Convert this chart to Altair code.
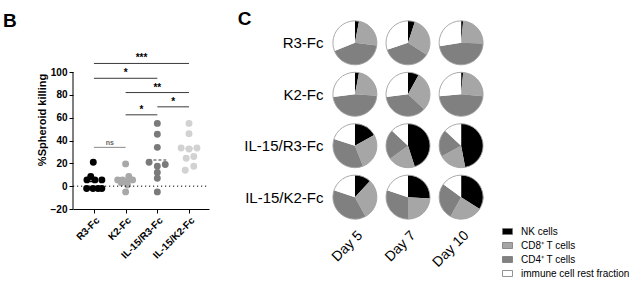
import math
import altair as alt
import pandas as pd

# ---------------- Panel B data ----------------
groups = ["R3-Fc", "K2-Fc", "IL-15/R3-Fc", "IL-15/K2-Fc"]
group_colors = ["#000000", "#a8a8a8", "#7a7a7a", "#d2d2d2"]

r3_vals = [21, 8.5, 5.5, 5.5, 5.5, -2, -2, -2, -2]
r3_dx = [-0.02, -0.1, -0.22, 0.03, 0.25, -0.23, -0.03, 0.13, 0.25]
k2_vals = [19.5, 8.5, 5.5, 5.5, 5.5, 4, 3, 1, -5]
k2_dx = [0.0, 0.1, -0.25, -0.1, 0.22, 0.03, -0.14, 0.06, 0.0]
il15r3_vals = [55, 45.5, 34, 21, 19, 17.5, 12, 7, -5]
il15r3_dx = [0, 0, 0, -0.26, 0.25, 0, 0, 0, 0]
il15k2_vals = [55, 46, 33.5, 32.5, 33.5, 24.5, 26, 14, 17.5]
il15k2_dx = [0, 0, -0.25, 0, 0.25, -0.09, 0.15, -0.12, 0.15]

medians = [4, 5, 23, 33]

sig_from = [0, 1, 2, 1, 0, 0]
sig_to = [1, 2, 3, 3, 2, 3]
sig_y = [34, 62.5, 69.5, 82, 94.5, 107.5]
sig_label = ["ns", "*", "*", "**", "*", "***"]

y_ticks = [-20, 0, 20, 40, 60, 80, 100]

# ---------------- Panel C data ----------------
days = ["Day 5", "Day 7", "Day 10"]
cells = ["NK cells", "CD8\u207a T cells", "CD4\u207a T cells", "immune cell rest fraction"]
cell_colors = ["#000000", "#a6a6a6", "#808080", "#ffffff"]

# percentages per pie: NK, CD8, CD4, rest
pie_r3 = [[3, 24, 42, 31], [5, 29, 36, 30], [1.5, 24, 47, 27.5]]
pie_k2 = [[3, 23, 47, 27], [8, 29, 36, 27], [1.5, 25, 47, 26.5]]
pie_il15r3 = [[17, 27, 36, 20], [45, 20, 22, 13], [47, 20, 20, 13]]
pie_il15k2 = [[12, 30, 38, 20], [26, 24, 30, 20], [34, 24, 27, 15]]

# ---------------- build tables ----------------
rows = []
for gi, (vals, dxs) in enumerate([(r3_vals, r3_dx), (k2_vals, k2_dx),
                                  (il15r3_vals, il15r3_dx), (il15k2_vals, il15k2_dx)]):
    for v, d in zip(vals, dxs):
        rows.append({"group": groups[gi], "xpos": gi + d, "val": v})
df_pts = pd.DataFrame(rows)

df_med = pd.DataFrame({"group": groups, "gi": list(range(4)), "med": medians})
half = 0.28
df_med["mx1"] = df_med["gi"] - half
df_med["mx2"] = df_med["gi"] + half

df_sig = pd.DataFrame({"x1": sig_from, "x2": sig_to, "y": sig_y, "label": sig_label})
df_sig["xm"] = (df_sig["x1"] + df_sig["x2"]) / 2

pie_rows = []
for g, pies in zip(groups, [pie_r3, pie_k2, pie_il15r3, pie_il15k2]):
    for d, p in zip(days, pies):
        for k, (c, v) in enumerate(zip(cells, p)):
            pie_rows.append({"group": g, "day": d, "cell": c, "pct": v, "order": k})
df_pie = pd.DataFrame(pie_rows)

FONT = "Liberation Sans"
xmin, xmax = -0.66, 3.63
ymin, ymax = -20, 136.8
PIE_R = 22

label_expr = "[" + ",".join("'%s'" % g for g in groups) + "][datum.value]"

x_axis = alt.Axis(values=[0, 1, 2, 3], labelExpr=label_expr, labelAngle=-45,
                  labelAlign="right", labelBaseline="top", title=None, grid=False,
                  domainColor="black", tickColor="black", tickSize=4,
                  labelFontSize=10, labelFontWeight="bold", labelColor="black",
                  labelPadding=2, labelFont=FONT, labelOverlap=False)
y_axis = alt.Axis(values=y_ticks, domain=False, grid=False, tickColor="black",
                  tickSize=4, labelFontSize=10, labelFontWeight="bold",
                  labelColor="black", labelFont=FONT, labelPadding=2,
                  labelOverlap=False, labelSeparation=0,
                  title="%Spheroid killing", titleFontSize=11, titleFontWeight="bold",
                  titleColor="black", titleFont=FONT, titlePadding=3)
x_scale = alt.Scale(domain=[xmin, xmax], nice=False, zero=False)
y_scale = alt.Scale(domain=[ymin, ymax], nice=False, zero=False)
col_scale = alt.Scale(domain=groups, range=group_colors)


def X(field):
    return alt.X(field, type="quantitative", scale=x_scale, axis=x_axis)


def Y(field):
    return alt.Y(field, type="quantitative", scale=y_scale, axis=y_axis)


points = alt.Chart(df_pts).mark_circle(size=48, opacity=1).encode(
    x=X("xpos"), y=Y("val"),
    color=alt.Color("group:N", scale=col_scale, legend=None),
)

yline = alt.Chart(df_med).transform_filter("datum.gi == 0").mark_rule(
    color="black", strokeWidth=1).encode(
    x=alt.XDatum(xmin, type="quantitative", scale=x_scale, axis=x_axis),
    y=alt.YDatum(ymin, type="quantitative", scale=y_scale, axis=y_axis),
    y2=alt.datum(100))

zero = alt.Chart(df_med).transform_filter("datum.gi == 0").mark_rule(
    color="black", strokeWidth=1, strokeDash=[1.2, 2.8]).encode(
    x=alt.XDatum(xmin, type="quantitative", scale=x_scale, axis=x_axis),
    x2=alt.datum(xmax),
    y=alt.YDatum(0, type="quantitative", scale=y_scale, axis=y_axis))

meds = alt.Chart(df_med).mark_rule(strokeWidth=1.5, strokeDash=[3, 2]).encode(
    x=X("mx1"), x2="mx2:Q", y=Y("med"),
    color=alt.Color("group:N", scale=col_scale, legend=None))

sig_lines = alt.Chart(df_sig).mark_rule(strokeWidth=1).encode(
    x=X("x1"), x2="x2:Q", y=Y("y"),
    color=alt.condition(alt.datum.label == "ns", alt.value("#8a8a8a"), alt.value("#3a3a3a")))

sig_text = alt.Chart(df_sig).mark_text(font=FONT, fontWeight="bold", baseline="alphabetic",
                                       dy=-2).encode(
    x=X("xm"), y=Y("y"), text="label:N",
    size=alt.condition(alt.datum.label == "ns", alt.value(7), alt.value(10)),
    color=alt.condition(alt.datum.label == "ns", alt.value("#666666"), alt.value("black")))

panel_b = alt.layer(points, yline, zero, sig_lines, sig_text, meds).properties(
    width=136, height=179,
    title=alt.TitleParams("B", anchor="start", frame="bounds", fontSize=19,
                          fontWeight="bold", font=FONT, color="black",
                          baseline="bottom", offset=-20, dx=-33))

# ---------------- Panel C ----------------
px = alt.X("day:N", sort=days, scale=alt.Scale(type="point", padding=0.45),
           axis=alt.Axis(title=None, domain=False, ticks=False, labelAngle=-45,
                         labelAlign="right", labelBaseline="top", labelPadding=18,
                         labelFontSize=14, labelFont=FONT, labelColor="black",
                         labelOverlap=False))
py = alt.Y("group:N", sort=groups, scale=alt.Scale(type="point", padding=0.25),
           axis=alt.Axis(title=None, domain=False, ticks=False, labelPadding=8,
                         labelFontSize=15, labelFont=FONT, labelColor="black",
                         labelOverlap=False))

pie_base = alt.Chart(df_pie).transform_window(
    cum="sum(pct)", frame=[None, 0], groupby=["group", "day"],
    sort=[alt.SortField("order")]).transform_calculate(start="datum.cum - datum.pct")

arcs = pie_base.mark_arc(outerRadius=PIE_R, strokeWidth=0).encode(
    x=px, y=py,
    theta=alt.Theta("start:Q", scale=alt.Scale(domain=[0, 100], range=[0, 2 * math.pi]),
                    stack=None),
    theta2="cum:Q",
    color=alt.Color("cell:N", scale=alt.Scale(domain=cells, range=cell_colors),
                    legend=alt.Legend(title=None, orient="none", legendX=171, legendY=196,
                                      symbolType="M-1,-0.6H1V0.6H-1Z", symbolSize=100,
                                      symbolStrokeColor="#777777", symbolStrokeWidth=0.8,
                                      labelFontSize=10, labelFont=FONT, labelColor="black",
                                      rowPadding=3, labelOffset=8)),
)

# Vega circle symbol radius = sqrt(size) / 2
outline = alt.Chart(df_pie).transform_filter(alt.datum.order == 0).mark_point(
    shape="circle", filled=False, size=(2 * PIE_R) ** 2, color="#a0a0a0", strokeWidth=0.9,
    opacity=1).encode(x=px, y=py)

panel_c = alt.layer(arcs, outline).properties(
    width=154, height=180,
    title=alt.TitleParams("C", anchor="start", frame="bounds", fontSize=19,
                          fontWeight="bold", font=FONT, color="black",
                          baseline="bottom", offset=-29, dx=-6))

chart = alt.hconcat(panel_b, panel_c, spacing=27).resolve_scale(
    color="independent").properties(
    padding={"left": 3, "top": 10, "right": 0, "bottom": 0},
    background="white",
).configure_view(stroke=None).configure_axis(labelOverlap=False)

chart.save("out.html", embed_options={"renderer": "svg", "actions": False})
